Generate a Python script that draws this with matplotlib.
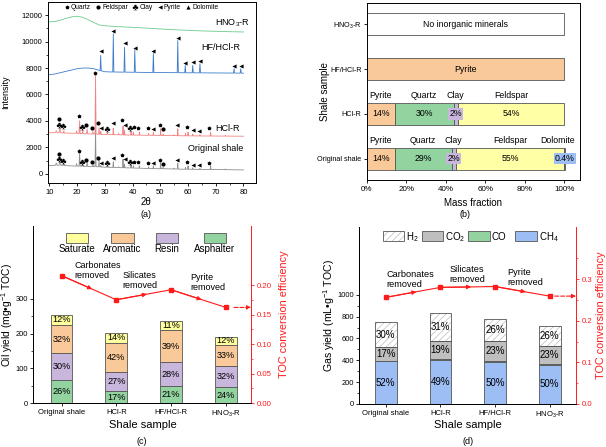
import numpy as np
import matplotlib
matplotlib.use('Agg')
import matplotlib.pyplot as plt
from matplotlib.lines import Line2D
from matplotlib.patches import Rectangle

plt.rcParams['font.family'] = ['Liberation Sans', 'DejaVu Sans']
plt.rcParams['mathtext.fontset'] = 'custom'
plt.rcParams['mathtext.rm'] = 'Liberation Sans'
plt.rcParams['mathtext.it'] = 'Liberation Sans:italic'
plt.rcParams['hatch.linewidth'] = 0.5
plt.rcParams['axes.linewidth'] = 0.7
plt.rcParams['xtick.major.width'] = 0.6
plt.rcParams['ytick.major.width'] = 0.6
plt.rcParams['xtick.minor.width'] = 0.5
plt.rcParams['ytick.minor.width'] = 0.5
plt.rcParams['xtick.major.size'] = 2.5
plt.rcParams['ytick.major.size'] = 2.5
plt.rcParams['xtick.minor.size'] = 1.5
plt.rcParams['ytick.minor.size'] = 1.5

samples = ['Original shale', 'HCl-R', 'HF/HCl-R', 'HNO$_3$-R']

# ---- (a) XRD patterns, (2theta, intensity)
orig_xrd = [(10, 620), (12.2, 640), (12.5, 800), (12.8, 640), (13.5, 650), (13.8, 950), (14.1, 640),
            (15.0, 640), (15.2, 760), (15.4, 620), (19.6, 580), (19.8, 760), (20.0, 580), (20.7, 580),
            (20.9, 1550), (21.1, 570), (21.8, 570), (22.0, 800), (22.2, 560), (23.4, 560), (23.6, 900),
            (23.8, 550), (25.5, 540), (25.7, 700), (25.9, 540), (26.45, 540), (26.65, 3300), (26.85, 530),
            (27.7, 530), (27.9, 1000), (28.1, 520), (28.4, 520), (28.55, 620), (28.7, 510), (30.7, 490),
            (30.9, 580), (31.1, 490), (32.9, 480), (33.05, 900), (33.2, 480), (34.8, 470), (35.0, 530),
            (35.2, 460), (36.4, 460), (36.55, 1100), (36.7, 460), (36.95, 460), (37.1, 720), (37.25, 450),
            (39.3, 440), (39.45, 700), (39.6, 440), (40.15, 430), (40.3, 600), (40.45, 430), (42.3, 420),
            (42.45, 600), (42.6, 420), (45.65, 400), (45.8, 520), (45.95, 400), (47.35, 390), (47.5, 600),
            (47.65, 390), (49.95, 380), (50.1, 900), (50.25, 380), (50.85, 380), (51.0, 480), (51.15, 380),
            (54.75, 360), (54.9, 420), (55.05, 360), (56.15, 360), (56.3, 800), (56.45, 350), (58.95, 340),
            (59.1, 480), (59.25, 340), (59.85, 340), (60.0, 600), (60.15, 340), (61.55, 340), (61.7, 450),
            (61.85, 335), (64.15, 330), (64.3, 400), (64.45, 330), (68.0, 320), (68.15, 600), (68.3, 320),
            (73.3, 310), (73.45, 360), (73.6, 310), (80, 290)]

hcl_xrd = [(10, 3100), (12.2, 3110), (12.5, 3250), (12.8, 3100), (13.5, 3100), (13.8, 3500), (14.1, 3090),
           (15.0, 3090), (15.2, 3250), (15.4, 3080), (19.6, 3060), (19.8, 3250), (20.0, 3050), (20.7, 3050),
           (20.9, 4000), (21.1, 3040), (21.8, 3040), (22.0, 3300), (22.2, 3030), (23.4, 3030), (23.6, 3400),
           (23.8, 3020), (25.5, 3010), (25.7, 3200), (25.9, 3010), (26.45, 3000), (26.65, 7500), (26.85, 3000),
           (27.7, 2990), (27.9, 3500), (28.1, 2990), (28.4, 2990), (28.55, 3200), (28.7, 2980), (30.7, 2970),
           (30.9, 3100), (31.1, 2970), (32.9, 2960), (33.05, 3450), (33.2, 2960), (34.8, 2950), (35.0, 3050),
           (35.2, 2950), (36.4, 2940), (36.55, 3600), (36.7, 2940), (36.95, 2940), (37.1, 3300), (37.25, 2935),
           (39.3, 2930), (39.45, 3200), (39.6, 2930), (40.15, 2925), (40.3, 3150), (40.45, 2925), (42.3, 2920),
           (42.45, 3150), (42.6, 2920), (45.65, 2910), (45.8, 3050), (45.95, 2910), (47.35, 2905), (47.5, 3150),
           (47.65, 2905), (49.95, 2900), (50.1, 3400), (50.25, 2900), (50.85, 2900), (51.0, 3000), (51.15, 2895),
           (54.75, 2885), (54.9, 2950), (55.05, 2885), (56.15, 2880), (56.3, 3400), (56.45, 2880), (58.95, 2870),
           (59.1, 3050), (59.25, 2870), (59.85, 2870), (60.0, 3150), (60.15, 2870), (61.55, 2865), (61.7, 3000),
           (61.85, 2865), (64.15, 2860), (64.3, 2950), (64.45, 2860), (68.0, 2855), (68.15, 3150), (68.3, 2855),
           (73.3, 2850), (73.45, 2900), (73.6, 2850), (80, 2840)]

hf_xrd = [(10, 7500), (12, 7550), (15, 7700), (18, 7850), (20, 7950), (22, 8000), (24, 8000), (26, 7950),
          (28.3, 7800), (28.5, 8960), (28.7, 7790), (30, 7720), (32.85, 7700), (33.05, 10600), (33.25, 7700),
          (36.9, 7690), (37.1, 9580), (37.3, 7690), (40.6, 7680), (40.8, 9380), (41.0, 7680), (47.3, 7660),
          (47.5, 9130), (47.7, 7660), (56.1, 7650), (56.3, 10090), (56.5, 7650), (58.8, 7640), (59.0, 8200),
          (59.2, 7640), (61.5, 7640), (61.7, 8200), (61.9, 7640), (64.1, 7635), (64.3, 8330), (64.5, 7635),
          (76.4, 7620), (76.6, 7950), (76.8, 7620), (78.8, 7615), (79.0, 7950), (79.2, 7615), (80, 7610)]

hno3_xrd = [(10, 11500), (12, 11520), (14, 11620), (16, 11760), (18, 11870), (20, 11920), (22, 11840),
            (24, 11660), (26, 11450), (28, 11260), (30, 11200), (35, 11130), (40, 11080), (45, 11020),
            (50, 10960), (55, 10900), (60, 10850), (65, 10810), (70, 10780), (75, 10750), (80, 10730)]

# mineral markers: Q quartz, F feldspar, C clay, P pyrite, D dolomite
orig_mk = [(13.5, 1480, 'F'), (13.5, 1080, 'C'), (14.9, 960, 'C'), (20.7, 1710, 'Q'), (21.9, 880, 'C'),
           (23.2, 1030, 'F'), (25.5, 860, 'F'), (27.6, 1180, 'F'), (28.6, 830, 'P'), (30.7, 780, 'C'),
           (33.0, 1210, 'P'), (36.3, 1410, 'Q'), (37.1, 1080, 'P'), (39.1, 860, 'C'), (40.6, 910, 'Q'),
           (42.1, 860, 'Q'), (45.5, 800, 'Q'), (47.3, 780, 'P'), (49.9, 1030, 'Q'), (50.9, 760, 'F'),
           (55.9, 1030, 'P'), (59.8, 880, 'Q'), (61.7, 700, 'P'), (64.0, 630, 'P'), (67.7, 830, 'Q')]
hcl_mk = [(x, y + 2640, k) for x, y, k in orig_mk] + [(26.6, 7600, 'Q')]
hf_mk = [(28.5, 9260, 'P'), (33.05, 10800, 'P'), (37.1, 9890, 'P'), (40.8, 9540, 'P'), (47.5, 9280, 'P'),
         (56.3, 10290, 'P'), (59.0, 8400, 'P'), (61.7, 8450, 'P'), (64.3, 8530, 'P'), (76.6, 8150, 'P'),
         (79.0, 8150, 'P')]

mk_style = {'Q': 'p', 'F': 'o', 'C': r'$\clubsuit$', 'P': '<', 'D': '^'}
mk_name = {'Q': 'Quartz', 'F': 'Feldspar', 'C': 'Clay', 'P': 'Pyrite', 'D': 'Dolomite'}

# ---- (b) mineral composition (%)
min_names = ['Pyrite', 'Quartz', 'Clay', 'Feldspar', 'Dolomite']
min_colors = ['#FAC99A', '#92D3A0', '#C9B6DD', '#FFFFA6', '#9DBFF2']
orig_min = [14, 29, 2, 55, 0.4]
hcl_min = [14, 30, 2, 54, 0]
hf_min = [100, 0, 0, 0, 0]

# ---- (c) oil yield
oil_total = [255, 202, 236, 190]
oil_sat = [12, 14, 11, 12]
oil_arom = [32, 42, 39, 33]
oil_resin = [30, 27, 28, 32]
oil_asph = [26, 17, 21, 24]
toc_oil = [0.216, 0.175, 0.192, 0.162]

# ---- (d) gas yield
gas_total = [748, 830, 775, 714]
gas_h2 = [30, 31, 26, 26]
gas_co2 = [17, 19, 23, 23]
gas_co = [1, 1, 1, 1]
gas_ch4 = [52, 49, 50, 50]
toc_gas = [0.256, 0.280, 0.282, 0.259]

EC = '#555555'
RED = '#FF1A1A'

fig = plt.figure(figsize=(6.06, 4.47), dpi=100)

# ================= (a)
ax = fig.add_axes([0.0792, 0.5906, 0.3432, 0.405])
for data, col in [(orig_xrd, '#8E8E8E'), (hcl_xrd, '#F28282'), (hf_xrd, '#3D7CCB'), (hno3_xrd, '#6BCB8C')]:
    xx, yy = zip(*data)
    ax.plot(xx, yy, color=col, lw=0.6)
for mk in [orig_mk, hcl_mk, hf_mk]:
    for x, y, k in mk:
        ax.plot(x, y, marker=mk_style[k], color='k', ms=3 if k != 'C' else 4, mew=0, ls='')
ax.set_xlim(9.5, 84.5)
ax.set_ylim(-700, 13000)
ax.set_xticks(range(10, 81, 10))
ax.set_xticks(range(15, 81, 10), minor=True)
ax.set_yticks(range(0, 12001, 2000))
ax.set_yticks(range(1000, 13000, 2000), minor=True)
ax.tick_params(labelsize=5.5, pad=1.5)
ax.set_ylabel('Intensity', fontsize=6.5)
ax.yaxis.set_label_coords(-0.18, 0.5)
ax.text(82.3, 11400, 'HNO$_3$-R', ha='right', va='center', fontsize=6.5)
ax.text(78.9, 9580, 'HF/HCl-R', ha='right', va='center', fontsize=6.5)
ax.text(78.7, 3420, 'HCl-R', ha='right', va='center', fontsize=6.5)
ax.text(80, 1910, 'Original shale', ha='right', va='center', fontsize=6.5)
handles = [Line2D([], [], marker=mk_style[k], color='k', ls='', ms=3 if k != 'C' else 4, mew=0,
                  label=mk_name[k]) for k in ['Q', 'F', 'C', 'P', 'D']]
ax.legend(handles=handles, ncol=5, loc='upper center', bbox_to_anchor=(0.445, 1.01), frameon=False,
          fontsize=4.8, handletextpad=0.0, columnspacing=0.5, handlelength=1.2, borderaxespad=0.2)
fig.text(145.7 / 606, 1 - 201.7 / 447, '2θ', ha='center', va='center', fontsize=7)
fig.text(145.7 / 606, 1 - 215 / 447, '(a)', ha='center', va='center', fontsize=6.5)

# ================= (b)
ax = fig.add_axes([0.6056, 0.5973, 0.3515, 0.396])
rows = [(0, orig_min), (1, hcl_min)]
for pos, vals in rows:
    left = 0
    for name, col, v in zip(min_names, min_colors, vals):
        if v == 0:
            continue
        ax.barh(pos, v, left=left, height=0.48, color=col, edgecolor=EC, lw=0.6)
        cx = left + v / 2
        lab = ('%g%%' % v)
        if v < 5:
            ax.text(cx, pos, lab, ha='center', va='center', fontsize=6.3,
                    bbox=dict(boxstyle='square,pad=0.12', fc=col, ec='none'))
        else:
            ax.text(cx, pos, lab, ha='center', va='center', fontsize=6.3)
        tx = min(cx, 96.6)
        ax.text(tx, pos + 0.41, name, ha='center', va='center', fontsize=6.3)
        left += v
ax.barh(2, hf_min[0], height=0.48, color=min_colors[0], edgecolor=EC, lw=0.6)
ax.text(50, 2, 'Pyrite', ha='center', va='center', fontsize=6.3)
ax.barh(3, 100, height=0.48, color='white', edgecolor=EC, lw=0.6)
ax.text(50, 3, 'No inorganic minerals', ha='center', va='center', fontsize=6.3)
ax.set_xlim(0, 108)
ax.set_ylim(-0.47, 3.47)
ax.set_xticks(range(0, 101, 20))
ax.set_xticklabels(['%d%%' % t for t in range(0, 101, 20)])
ax.set_yticks(range(4))
ax.set_yticklabels(samples)
ax.tick_params(axis='x', labelsize=5.8, pad=1.5)
ax.tick_params(axis='y', labelsize=5.2, pad=1.5)
ax.set_ylabel('Shale sample', fontsize=7)
ax.yaxis.set_label_coords(-0.175, 0.5)
fig.text(473 / 606, 1 - 202.7 / 447, 'Mass fraction', ha='center', va='center', fontsize=7)
fig.text(465.3 / 606, 1 - 215 / 447, '(b)', ha='center', va='center', fontsize=6.5)


def stacked(ax, totals, parts, colors, hatches, fs):
    xs = np.arange(len(totals))
    bottoms = np.zeros(len(totals))
    for vals, col, hat in zip(parts, colors, hatches):
        for i, (tot, v) in enumerate(zip(totals, vals)):
            s = sum(p[i] for p in parts)
            h = tot * v / s
            if hat:
                ax.bar(xs[i], h, bottom=bottoms[i], width=0.4, color=col, edgecolor='#BDBDBD',
                       hatch=hat, lw=0)
                ax.bar(xs[i], h, bottom=bottoms[i], width=0.4, fill=False, edgecolor=EC, lw=0.6)
            else:
                ax.bar(xs[i], h, bottom=bottoms[i], width=0.4, color=col, edgecolor=EC, lw=0.6)
            if v >= 5:
                ax.text(xs[i], bottoms[i] + h / 2, '%d%%' % v, ha='center', va='center', fontsize=fs)
            bottoms[i] += h


def toc_line(ax2, vals, arrow_from):
    xs = np.arange(len(vals))
    ax2.plot(xs, vals, color=RED, lw=0.8, marker='s', ms=2.5)
    for i in range(len(vals) - 1):
        mx = (xs[i] + xs[i + 1]) / 2
        my = (vals[i] + vals[i + 1]) / 2
        ax2.annotate('', xy=(mx + 0.06, my + (vals[i + 1] - vals[i]) * 0.06), xytext=(xs[i], vals[i]),
                     arrowprops=dict(arrowstyle='-|>', color=RED, lw=0.8, mutation_scale=6,
                                     shrinkA=0, shrinkB=0))
    ax2.annotate('', xy=(1.0, vals[-1]), xytext=(arrow_from, vals[-1]),
                 xycoords=('axes fraction', 'data'), textcoords='data',
                 arrowprops=dict(arrowstyle='-|>', color=RED, lw=0.8, ls='--', mutation_scale=6,
                                 shrinkA=0, shrinkB=0), annotation_clip=False)


def style_twin(ax, ax2):
    ax.spines['top'].set_visible(False)
    ax2.spines['top'].set_visible(False)
    ax.spines['right'].set_visible(False)
    ax2.spines['right'].set_color(RED)
    ax2.tick_params(axis='y', colors=RED, which='both', labelsize=5.6, pad=1.5)
    ax.set_xticks(range(4))
    ax.set_xticklabels(samples)
    ax.tick_params(axis='x', labelsize=5.5, pad=1.5)
    ax.tick_params(axis='y', labelsize=5.4, pad=1.2)


# ================= (c)
ax = fig.add_axes([0.0545, 0.0984, 0.3597, 0.396])
oil_cols = ['#FFFF9E', '#FAC99A', '#C9B6DD', '#92D3A0']
stacked(ax, oil_total, [oil_asph, oil_resin, oil_arom, oil_sat], oil_cols[::-1], [None] * 4, 6.6)
ax.set_xlim(-0.52, 3.46)
ax.set_ylim(0, 510)
ax.set_yticks([0, 100, 200, 300])
ax.set_yticks([50, 150, 250], minor=True)
ax.set_ylabel('Oil yield (mg•g$^{-1}$ TOC)', fontsize=7.4)
ax.yaxis.set_label_coords(-0.083, 0.5)
ax2 = ax.twinx()
ax2.set_ylim(0, 0.30)
ax2.set_yticks([0, 0.05, 0.10, 0.15, 0.20])
ax2.set_yticklabels(['0.00', '0.05', '0.10', '0.15', '0.20'])
ax2.set_yticks([0.025, 0.075, 0.125, 0.175], minor=True)
ax2.set_ylabel('TOC conversion efficiency', fontsize=7.8, color=RED)
ax2.yaxis.set_label_coords(1.127, 0.5)
style_twin(ax, ax2)
toc_line(ax2, toc_oil, 3.15)
ax2.text(0.24, 0.2415, 'Carbonates\nremoved', ha='left', va='top', fontsize=6.5, linespacing=1.15)
ax2.text(1.12, 0.224, 'Silicates\nremoved', ha='left', va='top', fontsize=6.5, linespacing=1.15)
ax2.text(2.35, 0.22, 'Pyrite\nremoved', ha='left', va='top', fontsize=6.5, linespacing=1.15)
for x0, col, lab in zip([0.15, 0.36, 0.564, 0.784], oil_cols, ['Saturate', 'Aromatic', 'Resin', 'Asphalter']):
    ax.add_patch(Rectangle((x0, 0.904), 0.102, 0.056, transform=ax.transAxes, fc=col, ec=EC, lw=0.6,
                           clip_on=False))
    ax.text(x0 + 0.051, 0.868, lab, transform=ax.transAxes, ha='center', va='center', fontsize=7)
fig.text(143 / 606, 1 - 424.7 / 447, 'Shale sample', ha='center', va='center', fontsize=8)
fig.text(141.7 / 606, 1 - 441 / 447, '(c)', ha='center', va='center', fontsize=6.5)

# ================= (d)
ax = fig.add_axes([0.5924, 0.0962, 0.3581, 0.396])
gas_cols = ['#FFFFFF', '#BFBFBF', '#92D3A0', '#9DBDF5']
stacked(ax, gas_total, [gas_ch4, gas_co, gas_co2, gas_h2], gas_cols[::-1], [None, None, None, '/////'], 7)
ax.set_xlim(-0.49, 3.48)
ax.set_ylim(0, 1620)
ax.set_yticks(range(0, 1001, 200))
ax.set_yticks(range(100, 1001, 200), minor=True)
ax.set_ylabel('Gas yield (mL•g$^{-1}$ TOC)', fontsize=7.6)
ax.yaxis.set_label_coords(-0.1, 0.5)
ax2 = ax.twinx()
ax2.set_ylim(0, 0.425)
ax2.set_yticks([0, 0.1, 0.2, 0.3])
ax2.set_yticks([0.05, 0.15, 0.25, 0.35], minor=True)
ax2.set_ylabel('TOC conversion efficiency', fontsize=7.8, color=RED)
ax2.yaxis.set_label_coords(1.09, 0.5)
style_twin(ax, ax2)
toc_line(ax2, toc_gas, 3.09)
ax2.text(0.01, 0.322, 'Carbonates\nremoved', ha='left', va='top', fontsize=6.6, linespacing=1.15)
ax2.text(1.16, 0.334, 'Silicates\nremoved', ha='left', va='top', fontsize=6.6, linespacing=1.15)
ax2.text(2.23, 0.326, 'Pyrite\nremoved', ha='left', va='top', fontsize=6.6, linespacing=1.15)
for x0, col, lab, hat in zip([0.109, 0.289, 0.502, 0.72], gas_cols, ['H$_2$', 'CO$_2$', 'CO', 'CH$_4$'],
                             ['/////', None, None, None]):
    if hat:
        ax.add_patch(Rectangle((x0, 0.92), 0.1, 0.057, transform=ax.transAxes, fc=col, ec='#BDBDBD',
                               hatch=hat, lw=0, clip_on=False))
        ax.add_patch(Rectangle((x0, 0.92), 0.1, 0.057, transform=ax.transAxes, fill=False, ec=EC, lw=0.6,
                               clip_on=False))
    else:
        ax.add_patch(Rectangle((x0, 0.92), 0.1, 0.057, transform=ax.transAxes, fc=col, ec=EC, lw=0.6,
                               clip_on=False))
    ax.text(x0 + 0.108, 0.945, lab, transform=ax.transAxes, ha='left', va='center', fontsize=7)
fig.text(468 / 606, 1 - 424.7 / 447, 'Shale sample', ha='center', va='center', fontsize=8)
fig.text(468 / 606, 1 - 441 / 447, '(d)', ha='center', va='center', fontsize=6.5)

fig.savefig('out.png', dpi=100)
